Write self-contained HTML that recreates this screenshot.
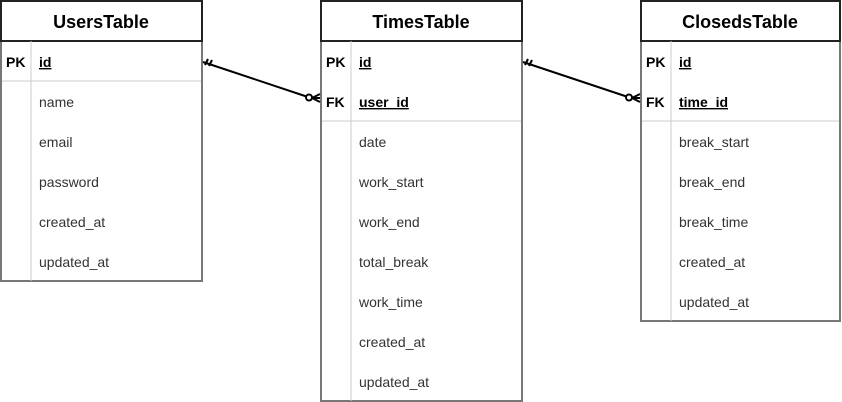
<!DOCTYPE html>
<html><head><style>body{margin:0;background:#fff}svg{display:block}</style></head><body>
<svg width="842" height="402" xmlns="http://www.w3.org/2000/svg" font-family="Liberation Sans, Arial, sans-serif">
<g id="t">
</g>
<!-- Users -->
<g>
<rect x="1" y="41" width="201" height="240" fill="#fff" stroke="#777" stroke-width="2"/>
<rect x="1" y="1" width="201" height="40" fill="#fff" stroke="#222" stroke-width="2"/>
<line x1="31" y1="41" x2="31" y2="281" stroke="#ccc"/>
<line x1="2" y1="81" x2="201" y2="81" stroke="#ccc"/>
<text x="101" y="28" font-size="18" font-weight="bold" text-anchor="middle">UsersTable</text>
<text x="6" y="67" font-size="14" font-weight="bold">PK</text>
<text x="39" y="67" font-size="14" font-weight="bold" text-decoration="underline">id</text>
<g font-size="14" fill="#333">
<text x="39" y="107">name</text><text x="39" y="147">email</text><text x="39" y="187">password</text><text x="39" y="227">created_at</text><text x="39" y="267">updated_at</text>
</g></g>
<!-- Times -->
<g>
<rect x="321" y="41" width="201" height="360" fill="#fff" stroke="#777" stroke-width="2"/>
<rect x="321" y="1" width="201" height="40" fill="#fff" stroke="#222" stroke-width="2"/>
<line x1="351" y1="41" x2="351" y2="401" stroke="#ccc"/>
<line x1="322" y1="121" x2="521" y2="121" stroke="#ccc"/>
<text x="421" y="28" font-size="18" font-weight="bold" text-anchor="middle">TimesTable</text>
<text x="326" y="67" font-size="14" font-weight="bold">PK</text>
<text x="359" y="67" font-size="14" font-weight="bold" text-decoration="underline">id</text>
<text x="326" y="107" font-size="14" font-weight="bold">FK</text>
<text x="359" y="107" font-size="14" font-weight="bold" text-decoration="underline">user_id</text>
<g font-size="14" fill="#333">
<text x="359" y="147">date</text><text x="359" y="187">work_start</text><text x="359" y="227">work_end</text><text x="359" y="267">total_break</text><text x="359" y="307">work_time</text><text x="359" y="347">created_at</text><text x="359" y="387">updated_at</text>
</g></g>
<!-- Closeds -->
<g>
<rect x="641" y="41" width="199" height="280" fill="#fff" stroke="#777" stroke-width="2"/>
<rect x="641" y="1" width="199" height="40" fill="#fff" stroke="#222" stroke-width="2"/>
<line x1="671" y1="41" x2="671" y2="321" stroke="#ccc"/>
<line x1="642" y1="121" x2="839" y2="121" stroke="#ccc"/>
<text x="740" y="28" font-size="18" font-weight="bold" text-anchor="middle">ClosedsTable</text>
<text x="646" y="67" font-size="14" font-weight="bold">PK</text>
<text x="679" y="67" font-size="14" font-weight="bold" text-decoration="underline">id</text>
<text x="646" y="107" font-size="14" font-weight="bold">FK</text>
<text x="679" y="107" font-size="14" font-weight="bold" text-decoration="underline">time_id</text>
<g font-size="14" fill="#333">
<text x="679" y="147">break_start</text><text x="679" y="187">break_end</text><text x="679" y="227">break_time</text><text x="679" y="267">created_at</text><text x="679" y="307">updated_at</text>
</g></g>
<!-- connectors -->
<g stroke="#000" stroke-width="2" fill="none">
<line x1="203" y1="62" x2="308" y2="97"/>
<line x1="205" y1="65" x2="208" y2="59"/><line x1="209" y1="66" x2="212" y2="60"/>
<circle cx="309" cy="97.5" r="3" fill="#fff"/>
<line x1="312" y1="98" x2="320" y2="94"/><line x1="312" y1="98" x2="320" y2="102"/><line x1="312" y1="98" x2="320" y2="98"/>
<line x1="523" y1="62" x2="628" y2="97"/>
<line x1="525" y1="65" x2="528" y2="59"/><line x1="529" y1="66" x2="532" y2="60"/>
<circle cx="629" cy="97.5" r="3" fill="#fff"/>
<line x1="632" y1="98" x2="640" y2="94"/><line x1="632" y1="98" x2="640" y2="102"/><line x1="632" y1="98" x2="640" y2="98"/>
</g>
</svg>
</body></html>
